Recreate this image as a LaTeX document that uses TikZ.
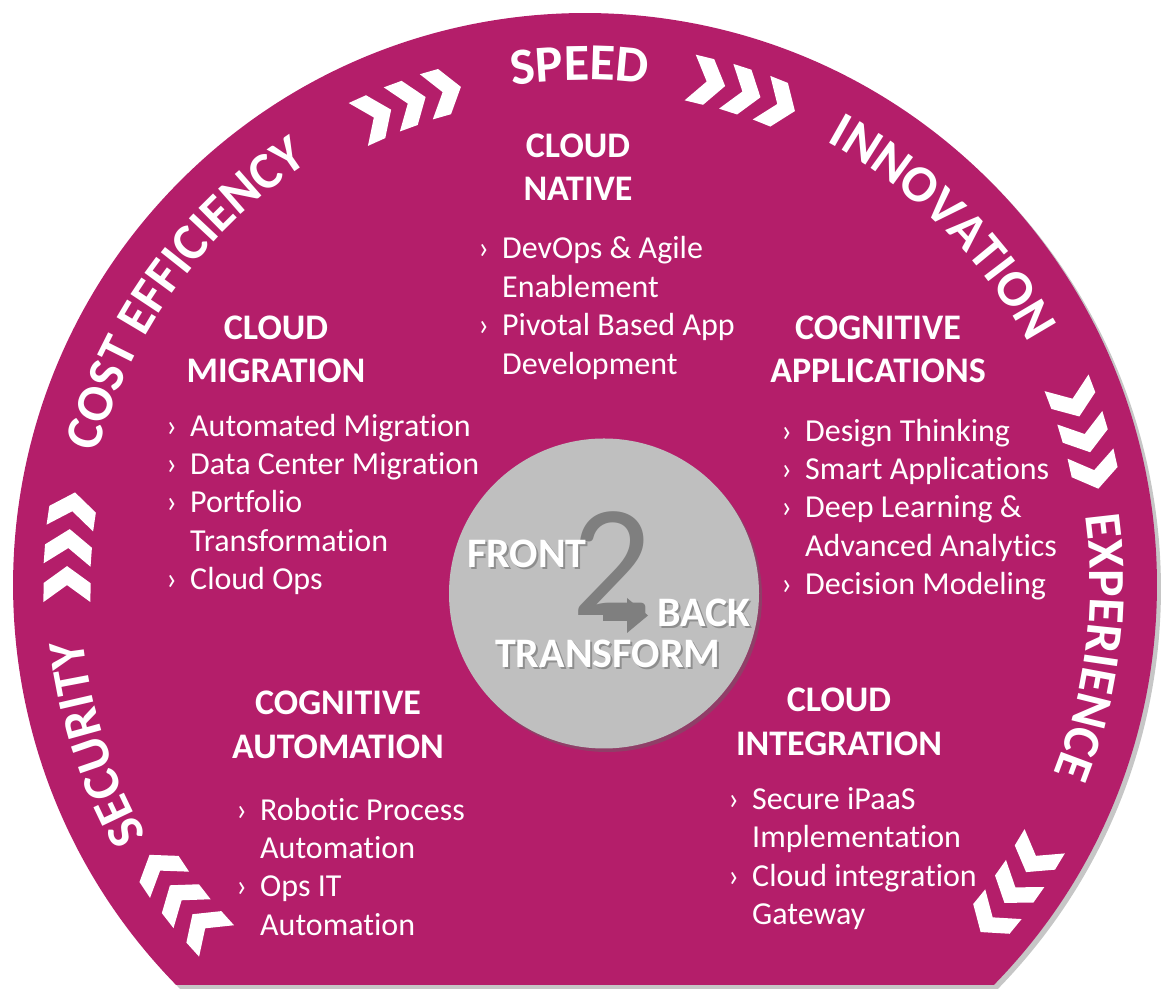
\documentclass[tikz,border=0pt]{standalone}
\usepackage{fontspec}
\setmainfont{Carlito}[Ligatures={NoCommon}]
\usetikzlibrary{decorations.text}
\definecolor{mag}{RGB}{180,30,106}
\definecolor{cgrey}{RGB}{191,191,191}
\definecolor{twogrey}{RGB}{127,127,127}
\newcommand\arcfnt{\bfseries\fontsize{52}{60}\selectfont}
\newcommand\headfnt{\bfseries\fontsize{36}{43}\selectfont}
\newcommand\bodyfnt{\fontsize{32}{38.5}\selectfont}
\newcommand\ctrfnt{\bfseries\fontsize{42}{48}\selectfont}
\newcommand\bul{\llap{›\hspace{13pt}}}
\newcommand\chev[2]{\fill[white, rotate=#1, shift={(#2,0)}] (0,-18) -- (23.5,-1) -- (23.5,18) -- (0,1) -- (-23.5,18) -- (-23.5,-1) -- cycle;}
\tikzset{
  head/.style={text=white, font=\headfnt, inner sep=0pt, anchor=base},
  body/.style={text=white, font=\bodyfnt, inner sep=0pt, anchor=base west},
  ctr/.style={text=white, font=\ctrfnt, inner sep=0pt, anchor=base west},
  ctrsh/.style={text=black!60, opacity=0.55, font=\ctrfnt, inner sep=0pt, anchor=base west},
  arctext/.style={decorate, decoration={text along path, text align=center, text={|\arcfnt\color{white}|#1}}}
}
\begin{document}
\begin{tikzpicture}[x=1pt,y=1pt]
\useasboundingbox (0,0) rectangle (1165,995);
% outer shape with shadow
\begin{scope}[shift={(585,410)}]
  \fill[black!50, opacity=0.45, shift={(4,-4)}] (-44.37:572) arc[start angle=-44.37, end angle=224.37, radius=572] -- cycle;
  \fill[mag] (-44.37:572) arc[start angle=-44.37, end angle=224.37, radius=572] -- cycle;
  % arc texts
  \path[arctext=SPEED] (130.6:505) arc[start angle=130.6, end angle=50.6, radius=505];
  \path[arctext=INNOVATION] (85:505) arc[start angle=85, end angle=5, radius=505];
  \path[arctext=EXPERIENCE] (33:505) arc[start angle=33, end angle=-47, radius=505];
  \path[arctext=SECURITY] (238:505) arc[start angle=238, end angle=158, radius=505];
  \path[arctext=COST EFFICIENCY] (184:505) arc[start angle=184, end angle=104, radius=505];
  % chevrons
  \chev{114.2}{513}\chev{110.1}{513}\chev{106.0}{513}
  \chev{76.3}{518}\chev{72.2}{518}\chev{68.1}{518}
  \chev{20.8}{522}\chev{16.7}{522}\chev{12.6}{522}
  \chev{-31.1}{526}\chev{-35.2}{526}\chev{-39.3}{526}
  \chev{222.0}{512}\chev{217.9}{512}\chev{213.8}{512}
  \chev{179.9}{518}\chev{175.8}{518}\chev{171.7}{518}
\end{scope}
% centre circle
\fill[black!60, opacity=0.45] (607,398) circle[radius=155];
\fill[cgrey] (604,401.5) circle[radius=155];
\node[text=twogrey, font=\fontsize{160}{165}\selectfont, inner sep=0pt, anchor=base] (two) at (612,379) {2};
\fill[twogrey] (603,374) rectangle (628,387);
\fill[twogrey] (627,397) -- (648,379.5) -- (627,362) -- cycle;
\node[ctrsh] (frontsh) at (469,425) {FRONT};
\node[ctr] (front) at (467,427) {FRONT};
\node[ctrsh] (backsh) at (659,366) {BACK};
\node[ctr] (back) at (657,368) {BACK};
\node[ctrsh] (transsh) at (497,325) {TRANSFORM};
\node[ctr] (trans) at (495,327) {TRANSFORM};
% headings
\node[head] (h1a) at (578,837) {CLOUD};
\node[head] (h1b) at (578,794) {NATIVE};
\node[head] (h2a) at (276,655) {CLOUD};
\node[head] (h2b) at (276,612) {MIGRATION};
\node[head] (h3a) at (878,655) {COGNITIVE};
\node[head] (h3b) at (878,612) {APPLICATIONS};
\node[head] (h4a) at (338,280) {COGNITIVE};
\node[head] (h4b) at (338,236) {AUTOMATION};
\node[head] (h5a) at (839,283) {CLOUD};
\node[head] (h5b) at (839,239) {INTEGRATION};
% cloud native
\node[body] (n1) at (502,736) {\bul DevOps \& Agile};
\node[body] (n2) at (502,697) {Enablement};
\node[body] (n3) at (502,659) {\bul Pivotal Based App};
\node[body] (n4) at (502,620) {Development};
% cloud migration
\node[body] (m1) at (190,558) {\bul Automated Migration};
\node[body] (m2) at (190,520) {\bul Data Center Migration};
\node[body] (m3) at (190,482) {\bul Portfolio};
\node[body] (m4) at (190,443) {Transformation};
\node[body] (m5) at (190,405) {\bul Cloud Ops};
% cognitive applications
\node[body] (a1) at (805,553) {\bul Design Thinking};
\node[body] (a2) at (805,515) {\bul Smart Applications};
\node[body] (a3) at (805,477) {\bul Deep Learning \&};
\node[body] (a4) at (805,438) {Advanced Analytics};
\node[body] (a5) at (805,400) {\bul Decision Modeling};
% cognitive automation
\node[body] (c1) at (260,174) {\bul Robotic Process};
\node[body] (c2) at (260,136) {Automation};
\node[body] (c3) at (260,98) {\bul Ops IT};
\node[body] (c4) at (260,59) {Automation};
% cloud integration
\node[body] (i1) at (752,185) {\bul Secure iPaaS};
\node[body] (i2) at (752,147) {Implementation};
\node[body] (i3) at (752,108) {\bul Cloud integration};
\node[body] (i4) at (752,70) {Gateway};
\end{tikzpicture}
\end{document}
